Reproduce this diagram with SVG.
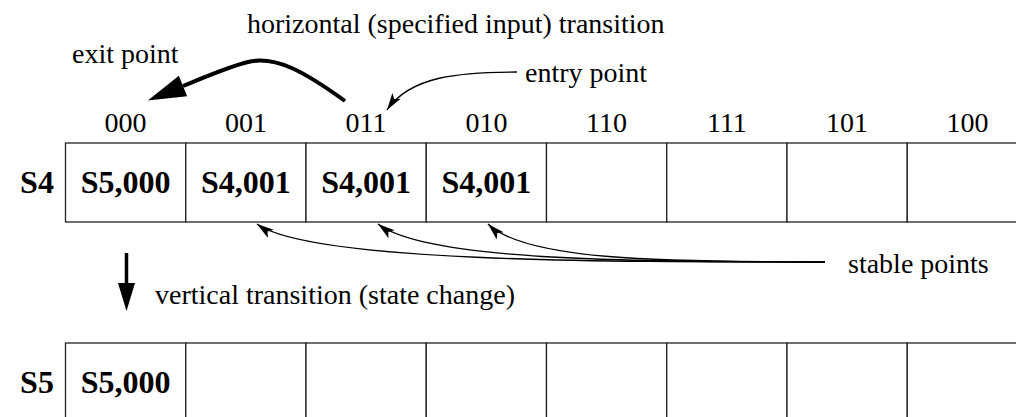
<svg xmlns="http://www.w3.org/2000/svg" width="1016" height="417" viewBox="0 0 1016 417">
<style>
.t{font-family:"Liberation Serif","Times New Roman",serif;font-size:28px;fill:#000}
.b{font-family:"Liberation Serif","Times New Roman",serif;font-size:32px;font-weight:bold;fill:#000;text-anchor:middle}
.m{text-anchor:middle}
.cell{fill:#fff;stroke:#222;stroke-width:1.3}
.thin{fill:none;stroke:#000;stroke-width:1.3}
.thick{fill:none;stroke:#000;stroke-width:4}
</style>
<defs>
<marker id="ah" markerUnits="userSpaceOnUse" markerWidth="20" markerHeight="12" refX="17" refY="6" orient="auto" overflow="visible">
<path d="M0,1 L17,6 L0,11 L4,6 Z" fill="#000"/>
</marker>
<marker id="big" markerUnits="userSpaceOnUse" markerWidth="40" markerHeight="24" refX="0" refY="11" orient="auto" overflow="visible">
<path d="M0,0 L38,11 L0,22 Z" fill="#000"/>
</marker>
<marker id="down" markerUnits="userSpaceOnUse" markerWidth="30" markerHeight="18" refX="0" refY="8.5" orient="auto" overflow="visible">
<path d="M0,0 L28,8.5 L0,17 Z" fill="#000"/>
</marker>
</defs>
<rect width="1016" height="417" fill="#fff"/>

<g id="row-s4">
<g id="s4-000"><rect class="cell" x="65.5" y="143" width="120.25" height="79"/><text class="b" x="125.6" y="193">S5,000</text></g>
<g id="s4-001"><rect class="cell" x="185.75" y="143" width="120.25" height="79"/><text class="b" x="245.9" y="193">S4,001</text></g>
<g id="s4-011"><rect class="cell" x="306" y="143" width="120.25" height="79"/><text class="b" x="366.1" y="193">S4,001</text></g>
<g id="s4-010"><rect class="cell" x="426.25" y="143" width="120.25" height="79"/><text class="b" x="486.4" y="193">S4,001</text></g>
<g id="s4-110"><rect class="cell" x="546.5" y="143" width="120.25" height="79"/></g>
<g id="s4-111"><rect class="cell" x="666.75" y="143" width="120.25" height="79"/></g>
<g id="s4-101"><rect class="cell" x="787" y="143" width="120.25" height="79"/></g>
<g id="s4-100"><rect class="cell" x="907.25" y="143" width="125" height="79"/></g>
</g>

<g id="row-s5">
<g id="s5-000"><rect class="cell" x="65.5" y="343" width="120.25" height="79"/><text class="b" x="125.6" y="393">S5,000</text></g>
<g id="s5-001"><rect class="cell" x="185.75" y="343" width="120.25" height="79"/></g>
<g id="s5-011"><rect class="cell" x="306" y="343" width="120.25" height="79"/></g>
<g id="s5-010"><rect class="cell" x="426.25" y="343" width="120.25" height="79"/></g>
<g id="s5-110"><rect class="cell" x="546.5" y="343" width="120.25" height="79"/></g>
<g id="s5-111"><rect class="cell" x="666.75" y="343" width="120.25" height="79"/></g>
<g id="s5-101"><rect class="cell" x="787" y="343" width="120.25" height="79"/></g>
<g id="s5-100"><rect class="cell" x="907.25" y="343" width="125" height="79"/></g>
</g>

<g id="row-labels">
<text class="b" x="37" y="193">S4</text>
<text class="b" x="37" y="393">S5</text>
</g>

<g id="column-labels" class="t">
<text class="t m" x="125.6" y="132">000</text>
<text class="t m" x="245.9" y="132">001</text>
<text class="t m" x="366.1" y="132">011</text>
<text class="t m" x="486.4" y="132">010</text>
<text class="t m" x="606.6" y="132">110</text>
<text class="t m" x="726.9" y="132">111</text>
<text class="t m" x="847.1" y="132">101</text>
<text class="t m" x="967.4" y="132">100</text>
</g>

<g id="annotations">
<text class="t" x="247" y="33">horizontal (specified input) transition</text>
<text class="t" x="72" y="63">exit point</text>
<text class="t" x="525" y="82">entry point</text>
<text class="t" x="848" y="273">stable points</text>
<text class="t" x="155" y="304">vertical transition (state change)</text>
</g>

<g id="connectors">
<path class="thick" d="M345,101 C305,72 275,55 248,62 C228,67 205,77 183,86" marker-end="url(#big)"/>
<path class="thin" d="M517,72 C460,72 410,76 387,110" marker-end="url(#ah)"/>
<path class="thin" d="M825,262 C600,262 310,262 257,224" marker-end="url(#ah)"/>
<path class="thin" d="M825,262 C620,262 425,260 378,224" marker-end="url(#ah)"/>
<path class="thin" d="M825,262 C660,262 525,260 488,224" marker-end="url(#ah)"/>
<path d="M126.5,253 L126.5,283" stroke="#000" stroke-width="3.5" fill="none" marker-end="url(#down)"/>
</g>
</svg>
